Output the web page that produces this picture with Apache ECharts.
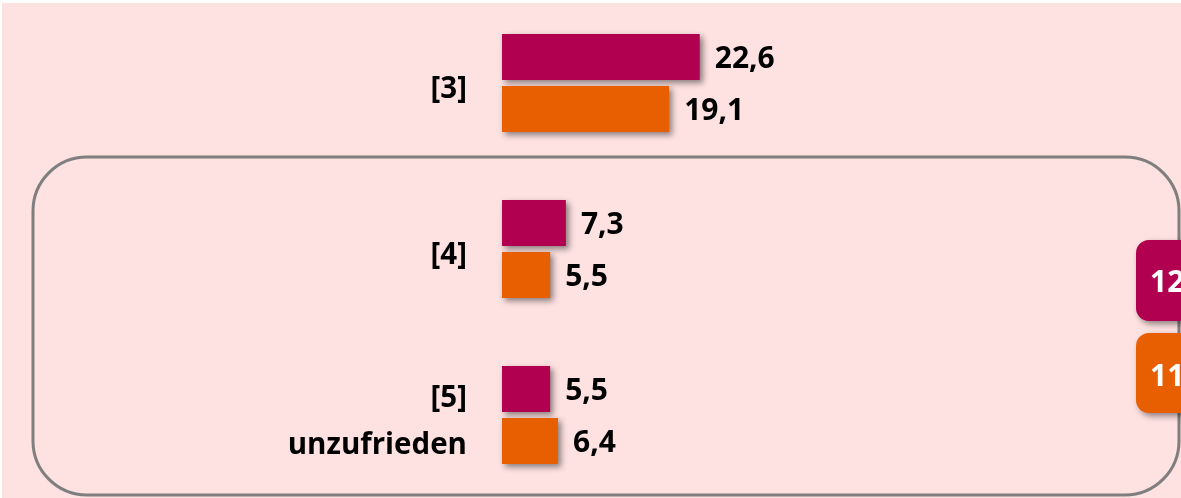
<!DOCTYPE html>
<html>
<head>
<meta charset="utf-8">
<script src="https://cdn.jsdelivr.net/npm/echarts@6/dist/echarts.min.js"></script>
<style>
  html, body { margin: 0; padding: 0; background: #ffffff; }
  #chart { width: 1181px; height: 498px; }
</style>
</head>
<body>
<div id="chart"></div>
<script>
// Satisfaction ratings [3]..[5], two groups compared
const categories = ['[3]', '[4]', '[5]\nunzufrieden'];
const seriesA = [22.6, 7.3, 5.5];   // magenta group
const seriesB = [19.1, 5.5, 6.4];   // orange group
const sideBadges = ['12', '11'];    // summary badges at the right edge

const MAGENTA = '#b1004f';
const ORANGE = '#e75f00';
const PINK_BG = '#fee1e1';
const FONT = '"Open Sans", "Noto Sans", sans-serif';

const fmt = v => String(v).replace('.', ',');

const barShadow = {
  shadowColor: 'rgba(0,0,0,0.45)',
  shadowBlur: 6,
  shadowOffsetX: 3,
  shadowOffsetY: 3
};

const chart = echarts.init(document.getElementById('chart'), null, { renderer: 'canvas' });

const valueLabel = {
  show: true, position: 'right', distance: 15, offset: [0, 2],
  formatter: p => fmt(p.value),
  color: '#000', fontFamily: FONT, fontWeight: 'bold', fontSize: 30
};

chart.setOption({
  backgroundColor: '#ffffff',
  animation: false,
  grid: { left: 502, top: 0, width: 525, height: 504, containLabel: false },
  xAxis: {
    type: 'value', min: 0, max: 60,
    show: false
  },
  yAxis: {
    type: 'category',
    data: categories,
    inverse: true,
    axisLine: { show: false },
    axisTick: { show: false },
    splitLine: { show: false },
    axisLabel: {
      margin: 35,
      align: 'right',
      color: '#000',
      fontFamily: FONT,
      fontWeight: 'bold',
      fontSize: 29.5,
      lineHeight: 47,
      // a short spacer line nudges the category text slightly downward
      formatter: v => '{s| }\n' + v,
      rich: { s: { fontSize: 8, lineHeight: 14 } }
    }
  },
  graphic: [
    { type: 'rect', z: -10, silent: true,
      shape: { x: 2, y: 3, width: 1179, height: 495 },
      style: { fill: PINK_BG } },
    { type: 'rect', z: -5, silent: true,
      shape: { x: 33, y: 157, width: 1146, height: 338, r: 54 },
      style: { fill: 'none', stroke: '#7f7f7f', lineWidth: 3 } },
    { type: 'group', z: 5, children: [
      { type: 'rect', shape: { x: 1136, y: 240, width: 90, height: 81, r: 13 },
        style: Object.assign({ fill: MAGENTA }, barShadow) },
      { type: 'text', x: 1150, y: 283,
        style: { text: sideBadges[0], fill: '#fff', font: 'bold 30px ' + FONT,
                 verticalAlign: 'middle', align: 'left' } },
      { type: 'rect', shape: { x: 1136, y: 333, width: 90, height: 80, r: 13 },
        style: Object.assign({ fill: ORANGE }, barShadow) },
      { type: 'text', x: 1150, y: 377,
        style: { text: sideBadges[1], fill: '#fff', font: 'bold 30px ' + FONT,
                 verticalAlign: 'middle', align: 'left' } }
    ]}
  ],
  series: [
    {
      type: 'bar', data: seriesA, barWidth: 46, barGap: '13%',
      itemStyle: Object.assign({ color: MAGENTA }, barShadow),
      label: valueLabel
    },
    {
      type: 'bar', data: seriesB, barWidth: 46, barGap: '13%',
      itemStyle: Object.assign({ color: ORANGE }, barShadow),
      label: valueLabel
    }
  ]
});
</script>
</body>
</html>
